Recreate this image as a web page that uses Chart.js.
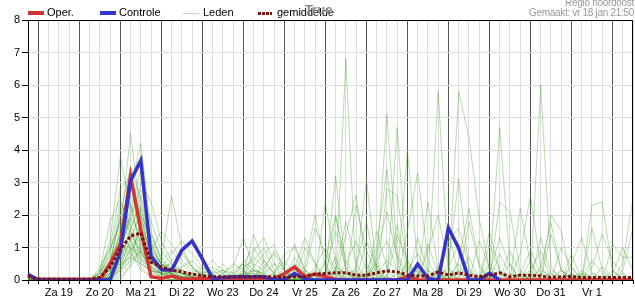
<!DOCTYPE html>
<html>
<head>
<meta charset="utf-8">
<script src="https://cdn.jsdelivr.net/npm/chart.js@4"></script>
<style>
  body { margin: 0; background: #fff; font-family: 'Liberation Sans', Arial, sans-serif; }
  #wrap { position: relative; width: 635px; height: 300px; overflow: hidden; }
  .lg { position: absolute; top: 6px; font-size: 11px; line-height: 13px; color: #000; white-space: nowrap; }
  .sw { position: absolute; display: block; }
  .kop { position: absolute; right: 1px; font-size: 10px; line-height: 12px; color: #999; letter-spacing: -0.3px; white-space: nowrap; }
  .titel { position: absolute; left: 305px; top: 3px; font-size: 13px; line-height: 14px; font-weight: bold; color: #8a8a8a; }
</style>
</head>
<body>
<div id="wrap">
  <canvas id="grafiek" width="635" height="300"></canvas>

  <span class="sw" style="left:28px;top:11px;width:16px;height:4px;background:#d43434"></span>
  <span class="lg" style="left:47px">Oper.</span>
  <span class="sw" style="left:100px;top:11px;width:16px;height:4px;background:#3434cc"></span>
  <span class="lg" style="left:119px">Controle</span>
  <span class="sw" style="left:183px;top:13px;width:16px;height:1px;background:#b5dcaa"></span>
  <span class="lg" style="left:203px">Leden</span>
  <span class="sw" style="left:258px;top:12px;width:14px;height:3px;background:repeating-linear-gradient(90deg,#7b1010 0 3px,transparent 3px 4px)"></span>
  <span class="lg" style="left:277px">gemiddelde</span>
  <span class="titel">True</span>

  <span class="kop" style="top:-3px">Regio noordoost</span>
  <span class="kop" style="top:7px">Gemaakt: vr 18 jan 21:50</span>
</div>

<script>
// 6-uurs stappen vanaf vr 18 jan 18:00
const dagen = ['Za 19', 'Zo 20', 'Ma 21', 'Di 22', 'Wo 23', 'Do 24', 'Vr 25',
               'Za 26', 'Zo 27', 'Ma 28', 'Di 29', 'Wo 30', 'Do 31', 'Vr 1'];

const oper = [.12,  .02,.02,.02,.02,  .02,.02,0,.5,  1.1,3.2,1.55,.1,  .05,.12,.03,.03,  .05,.03,.03,.03,
  .03,.03,.03,.03,  .2,.4,.1,.18,  .1,.02,0,0,  0,0,0,0,  .1,0,0,0,  0,0,0,0,  0,0,0,0,  0,0,0,0,  0,0,0,0,  0,0,0];

const controle = [.18,  0,0,0,0,  0,0,0,0,  .85,3.05,3.68,.73,  .32,.3,.92,1.2,  .65,.05,.08,.1,
  .1,.1,.1,.02,  0,.2,.03,0,  0,0,0,0,  0,0,0,0,  0,.49,.05,0,  1.6,.98,0,0,  .21,0];

const gemiddelde = [.12,  .03,.02,.02,.02,  .02,.02,.08,.4,  .95,1.35,1.45,.55,  .4,.3,.25,.18,  .13,.1,.1,.1,
  .1,.1,.1,.1,  .08,.1,.1,.18,  .2,.22,.22,.15,  .15,.22,.28,.25,  .15,.12,.12,.25,  .15,.22,.15,.1,
  .15,.22,.1,.15,  .15,.12,.08,.1,  .1,.08,.08,.08,  .08,.08,.08];

const leden = [
  [.1,  0,.05,0,.05,  0,0,.2,1.2,  3.8,2.2,1.1,.6,  .3,.2,.1,.1,  .2,.1,0,.3,  .5,.2,0,0,  .1,.3,.1,0,  .2,3.2,.3,0,  0,.2,.6,.3,  .1,0,0,.4,  .2,0,0,.1,  .5,.2,0,0,  .1,.3,.1,0,  0,.2,.1,0,  0,.1,0],
  [0,  0,0,0,0,  0,0,.1,.3,  1.5,4.5,2.0,.8,  .4,.3,.2,.1,  0,.1,0,0,  .2,1.4,.6,.2,  0,0,.2,0,  0,0,6.8,0,  0,0,.1,0,  .3,.8,.2,0,  0,0,.3,0,  .2,4.7,.5,0,  0,0,.2,0,  0,0,0,.1,  0,0,0],
  [.15,  .05,0,0,.05,  0,0,0,.1,  .8,2.8,4.2,1.5,  .6,2.6,1.0,.4,  .2,0,0,.1,  .1,0,0,0,  0,.5,.2,0,  0,0,0,.1,  0,.4,5.1,.8,  .2,0,0,0,  .1,0,0,0,  0,0,0,.2,  0,6.0,.4,0,  0,0,.1,0,  0,0,0],
  [0,  0,0,.05,0,  0,0,.1,.5,  2.0,3.5,2.5,1.0,  .5,.4,.3,.1,  0,0,.2,.4,  1.3,.4,.1,0,  0,0,0,.3,  .1,0,0,0,  .2,0,0,4.7,  .2,.3,0,5.8,  .4,0,.1,0,  0,0,.2,0,  0,0,0,.3,  .1,0,0,0,  0,0,0],
  [0,  0,0,0,0,  .05,0,0,.2,  1.0,1.8,3.0,2.4,  1.2,.6,.3,.2,  .1,0,0,0,  .2,.3,.1,0,  0,.2,.1,0,  2.4,.5,0,0,  0,.1,0,0,  0,0,.3,.1,  0,5.8,4.4,1.9,  .3,0,0,0,  .1,0,0,0,  0,.2,0,0,  0,0,0],
  [.05,  0,0,0,0,  0,0,.3,1.8,  2.5,1.5,.8,.4,  .2,.1,0,0,  .1,0,0,.2,  .4,.6,1.0,.3,  0,0,0,0,  0,0,.2,.3,  3.1,.3,0,0,  4.0,.5,0,0,  0,0,0,.2,  0,0,0,0,  .3,0,0,0,  .2,0,2.3,2.4,  .3,0,0],
  [0,  0,.05,0,0,  0,0,0,.1,  .6,1.2,2.2,1.0,  .5,.2,.1,0,  0,.1,.3,.1,  0,0,.2,.5,  .3,0,0,0,  0,.3,0,0,  0,0,2.8,2.6,  .4,0,0,0,  .2,0,0,.1,  0,2.4,2.1,.3,  0,0,0,0,  .1,0,0,0,  0,0,0],
  [0,  0,0,0,0,  0,0,0,.05,  .3,.8,1.6,.9,  1.5,1.1,.6,.3,  .2,.3,.1,0,  0,.1,.4,.8,  .3,.1,0,0,  .3,0,0,0,  .1,.5,0,0,  0,0,2.4,.3,  0,0,0,1.2,  .4,0,0,0,  0,.2,0,0,  0,0,0,.4,  .1,0,0],
  [.1,  0,0,0,0,  0,0,.2,.6,  1.4,2.6,1.9,.7,  .3,.1,0,0,  0,0,.1,0,  0,.2,.1,0,  0,0,.4,2.0,  .4,0,0,.2,  0,0,0,0,  .1,0,0,0,  0,.3,0,0,  0,0,0,2.2,  .5,0,0,0,  0,0,.2,.1,  0,.5,2.5],
  [0,  0,0,0,0,  0,0,0,0,  0,.5,1.0,.6,  .4,.8,1.2,.8,  .4,.1,0,0,  0,.9,1.3,.5,  0,0,0,0,  0,.2,0,0,  .5,.1,0,0,  0,0,0,0,  .3,0,0,0,  0,0,0,0,  0,0,.3,.1,  0,0,0,0,  1.1,.7,.7],
  [0,  0,0,0,0,  0,0,.4,1.0,  2.8,3.2,1.2,.5,  .2,.1,0,0,  0,0,0,0,  0,0,0,.2,  .8,1.0,.3,0,  0,0,0,.3,  0,0,0,0,  0,.2,0,0,  1.2,1.6,.4,0,  0,0,0,0,  0,0,0,0,  .2,0,0,0,  0,0,0],
  [0,  0,0,0,0,  0,0,0,.1,  .9,2.0,2.8,1.8,  .9,.5,.2,.1,  0,0,.1,0,  .1,0,0,0,  0,0,0,0,  .2,1.5,.4,0,  0,0,.3,0,  0,0,0,0,  0,0,0,0,  .1,0,0,0,  0,.4,1.75,.3,  0,0,0,0,  0,0,0],
  [.05,  0,0,0,0,  0,0,.1,.4,  1.2,1.9,1.4,.6,  .3,.2,.4,.6,  .3,.1,0,0,  .3,.7,.4,.1,  0,.3,1.3,.5,  0,0,0,0,  0,.6,1.2,.3,  0,0,0,0,  .4,1.1,.2,0,  0,0,.5,0,  0,0,0,0,  0,.3,0,0,  0,0,0],
  [0,  0,0,0,0,  0,0,0,.2,  .7,1.4,.9,.3,  .2,.1,.1,0,  .1,.2,.3,.2,  .5,1.0,.5,.2,  0,0,.2,1.6,  .8,.2,0,0,  0,0,0,1.4,  .6,0,0,0,  0,0,1.8,.4,  0,0,0,0,  .6,0,0,0,  0,0,0,0,  0,.2,0],
  [.1,  .05,0,0,0,  0,0,.2,.9,  1.8,1.2,.6,.2,  .1,0,0,.2,  .4,.2,0,0,  0,0,.3,.9,  .4,0,0,0,  0,1.95,.6,0,  0,0,0,.2,  0,0,1.1,.2,  0,0,0,0,  1.5,.3,0,0,  0,0,0,1.0,  .4,0,0,0,  0,0,0],
  [0,  0,0,0,0,  0,0,0,.1,  .4,.9,1.3,.7,  .4,.5,.3,.1,  0,0,0,.1,  .2,.1,0,0,  .1,.2,0,0,  0,.3,1.8,.5,  0,0,0,0,  0,.4,.1,0,  0,0,0,0,  0,0,0,.2,  .9,.2,0,0,  0,0,0,0,  .3,0,0],
  [0,  0,0,.05,0,  0,0,.1,.3,  .5,.7,.5,.3,  .2,.2,.8,.4,  .1,0,0,0,  0,.4,.8,1.1,  .3,0,0,0,  0,0,0,0,  1.2,.4,0,0,  0,0,0,.3,  1.4,.2,0,0,  0,0,0,0,  0,0,0,0,  .5,1.3,.2,0,  0,0,0],
  [.05,  0,0,0,0,  0,0,0,0,  .2,.6,1.8,1.4,  .7,.3,.1,0,  0,0,.2,.5,  .3,0,0,0,  0,0,0,.4,  1.0,.3,0,0,  .2,0,0,0,  0,1.3,.3,0,  0,0,0,0,  0,.8,.2,0,  0,0,0,0,  0,0,.6,.2,  0,0,0],
  [0,  0,0,0,0,  0,0,.2,.7,  1.1,.8,.5,.3,  .1,0,0,0,  .2,.4,.2,0,  0,0,0,.2,  .6,.2,0,0,  0,0,0,2.3,  .9,.2,0,0,  0,0,0,0,  0,0,.7,0,  0,0,0,0,  0,0,0,.3,  0,0,0,0,  0,0,0],
  [.1,  0,0,0,0,  0,0,0,.1,  .5,1.6,2.3,.9,  .3,.2,.1,0,  0,0,0,0,  .1,.3,.2,0,  0,0,0,0,  0,0,.5,1.2,  .3,0,0,0,  0,0,0,.2,  0,.5,0,0,  0,0,0,0,  0,0,0,0,  0,0,0,0,  .2,1.0,.3],
  [0,  0,0,0,0,  0,0,0,.3,  1.6,2.4,1.0,.4,  .2,.1,0,0,  0,0,0,.1,  .2,.2,0,0,  0,0,.3,.1,  0,0,0,0,  0,.8,2.1,.7,  0,0,0,0,  0,0,0,0,  0,0,0,0,  .3,.9,0,0,  0,0,0,0,  0,0,0],
  [0,  0,0,0,0,  0,0,0,0,  .1,.4,.9,.6,  .3,.2,.1,.1,  .3,.6,.3,0,  0,0,0,0,  .1,0,0,0,  .1,.4,.2,0,  0,0,0,0,  .3,0,0,0,  0,0,0,0,  .2,1.3,.4,0,  0,0,0,0,  0,0,0,0,  0,0,0],
  [.05,  0,0,0,0,  0,0,.1,.5,  1.3,1.0,.6,.4,  .2,.1,0,0,  0,0,0,0,  0,0,0,0,  0,.7,.2,0,  0,0,0,0,  0,0,0,0,  0,0,0,0,  0,0,0,0,  0,0,0,0,  0,0,0,0,  0,0,0,0,  0,0,0],
  [0,  0,0,0,0,  0,0,0,.2,  .9,2.1,3.4,1.1,  .5,.2,0,0,  0,0,0,0,  0,0,0,0,  0,0,0,0,  .5,0,0,0,  0,0,0,0,  0,0,0,0,  0,0,0,0,  0,0,0,0,  0,0,0,0,  .4,0,0,0,  0,0,0],
  [0,  0,0,0,0,  0,0,0,.1,  .6,1.1,.8,.5,  .6,.9,.5,.2,  0,0,0,0,  .2,.5,.3,0,  0,0,0,0,  0,0,0,0,  0,0,0,0,  .6,.2,0,0,  0,0,0,0,  0,0,0,0,  0,0,0,0,  0,0,0,0,  0,0,0],
  [.05,  0,.05,0,0,  0,0,.1,.4,  2.2,1.3,.4,.1,  0,0,0,0,  0,0,0,0,  0,0,0,0,  0,0,0,0,  0,0,0,0,  0,0,0,0,  0,0,0,0,  0,0,0,0,  0,0,0,0,  0,0,0,0,  0,0,0,0,  0,0,0],
  [0,  0,0,0,0,  0,0,0,.1,  .4,.7,1.1,.8,  .5,.3,.2,.1,  0,0,0,.1,  .3,.1,0,0,  0,0,0,0,  0,0,0,0,  0,0,.3,1.7,  .2,0,0,0,  0,0,0,0,  .4,0,0,0,  0,1.3,.2,0,  0,0,0,0,  0,0,0],
  [0,  0,0,0,0,  0,0,.1,.2,  .8,3.0,2.0,.6,  .2,0,0,0,  0,0,0,0,  0,0,0,0,  0,0,0,0,  0,.7,0,0,  0,0,0,0,  0,0,.9,2.0,  .4,0,0,0,  0,0,0,0,  0,0,0,0,  .8,0,0,0,  0,0,0],
  [0,  0,0,0,0,  0,0,0,0,  .3,1.0,1.5,.8,  .4,.3,.2,0,  0,0,0,0,  0,0,.6,.2,  0,0,0,0,  0,0,0,0,  0,0,0,0,  0,0,0,0,  0,0,0,0,  0,0,0,0,  0,0,0,0,  0,0,0,0,  0,0,0],
  [.1,  0,0,0,0,  0,0,.3,1.0,  1.7,.9,.3,.1,  0,0,0,0,  0,0,0,0,  0,0,0,0,  0,0,0,0,  0,0,0,0,  0,0,0,0,  0,0,0,0,  0,0,0,0,  0,0,0,0,  0,0,0,0,  0,0,0,0,  0,0,0],
  [0,  0,0,0,0,  0,0,.1,.6,  1.9,1.5,.7,.3,  .2,.4,.2,0,  0,.2,.5,.2,  0,0,0,0,  .4,1.1,.3,0,  0,0,0,0,  0,1.5,.4,0,  0,0,0,0,  0,.6,2.2,.5,  0,0,0,0,  0,0,1.4,.3,  0,0,0,0,  0,0,0],
  [0,  0,0,0,0,  0,0,0,.2,  1.0,2.3,1.7,.9,  .5,.3,.1,0,  0,0,0,0,  .6,.3,0,0,  0,0,0,0,  0,0,1.4,2.6,  .4,0,0,0,  0,0,0,0,  0,0,0,0,  1.1,.3,0,0,  0,0,0,0,  0,0,1.6,.3,  0,0,0],
  [.05,  0,0,0,0,  0,0,.1,.3,  .7,1.5,2.6,1.2,  .4,.2,0,0,  0,0,0,0,  0,0,0,0,  0,0,0,0,  .6,2.0,.3,0,  0,0,0,0,  .5,0,0,0,  0,0,0,0,  0,0,0,.8,  2.6,.4,0,0,  0,0,0,0,  0,0,0],
  [0,  0,0,0,0,  0,0,0,.1,  .5,1.0,.7,.4,  .2,.6,.9,.4,  .1,0,0,0,  0,0,0,0,  0,0,1.0,.5,  0,0,0,0,  0,0,0,0,  0,0,0,0,  .5,3.1,.3,0,  0,0,0,0,  0,0,0,0,  0,0,.4,1.4,  .6,.2,0],
  [0,  0,0,0,0,  0,0,.2,.8,  2.4,1.7,.9,.3,  .1,0,0,0,  0,0,0,0,  0,.3,.2,0,  0,0,0,0,  0,0,0,.4,  1.8,.2,0,0,  0,.3,0,0,  0,0,0,0,  0,0,.9,.2,  0,0,0,0,  0,0,0,0,  0,.3,1.6],
  [0,  0,0,0,0,  0,0,0,0,  .4,1.3,2.0,1.3,  .6,.3,.2,.1,  0,0,0,0,  0,0,0,0,  0,0,0,0,  0,0,0,0,  .3,1.0,3.4,.5,  0,0,0,0,  0,0,0,0,  0,0,0,0,  0,0,0,0,  0,0,0,0,  0,0,0],
  [0,  0,0,0,0,  0,0,0,.1,  .3,.6,.9,.5,  .3,.2,0,0,  0,0,0,0,  0,0,0,0,  0,0,0,0,  0,0,0,0,  0,0,0,0,  1.5,3.3,.6,0,  0,0,0,0,  0,0,0,0,  .2,0,0,0,  0,0,0,0,  0,0,0],
  [.05,  0,0,0,0,  0,0,.1,.3,  1.2,2.9,1.6,.6,  .3,.1,0,0,  0,0,0,0,  0,0,0,0,  0,0,0,0,  0,0,0,0,  0,0,0,0,  0,0,0,0,  0,0,0,0,  0,0,0,0,  0,0,2.0,1.5,  0,0,0,0,  0,0,0]
];

// dag-label op het midden van de dag, de rest leeg
const labels = oper.map((_, i) => (i % 4 === 3 && dagen[(i - 3) / 4]) || '');

Chart.defaults.font.family = "'Liberation Sans', Arial, sans-serif";
Chart.defaults.font.size = 11;
Chart.defaults.color = '#000';

const datasets = [
  { label: 'gemiddelde', data: gemiddelde, borderColor: '#7b1010', borderWidth: 3, borderDash: [3, 2] },
  { label: 'Controle', data: controle, borderColor: '#3434cc', borderWidth: 3.5 },
  { label: 'Oper.', data: oper, borderColor: '#d43434', borderWidth: 3.5 },
  ...leden.map(d => ({ label: 'Leden', data: d, borderColor: 'rgba(60,155,35,0.36)', borderWidth: 1 }))
];

// zwarte rand boven en rechts van het plotvlak
const kader = {
  id: 'kader',
  afterDraw(chart) {
    const { ctx, chartArea: a } = chart;
    ctx.save();
    ctx.strokeStyle = '#000';
    ctx.lineWidth = 1;
    ctx.beginPath();
    ctx.moveTo(a.left, a.top + 0.5);
    ctx.lineTo(a.right - 0.5, a.top + 0.5);
    ctx.lineTo(a.right - 0.5, a.bottom);
    ctx.stroke();
    ctx.restore();
  }
};

new Chart(document.getElementById('grafiek'), {
  type: 'line',
  data: { labels, datasets },
  options: {
    responsive: false,
    animation: false,
    layout: { padding: { top: 20, right: 1, left: 0, bottom: 0 } },
    elements: { point: { radius: 0 }, line: { tension: 0, fill: false } },
    plugins: { legend: { display: false }, tooltip: { enabled: false } },
    scales: {
      x: {
        offset: false,
        grid: { color: c => (c.index % 4 === 1 ? '#555' : '#dcdcdc'), tickColor: '#000', tickLength: 4 },
        border: { color: '#000' },
        ticks: { autoSkip: false, maxRotation: 0, minRotation: 0, padding: 2 },
        afterFit: s => { s.height = 20; }
      },
      y: {
        min: 0,
        max: 8,
        ticks: { stepSize: 1, padding: 2 },
        grid: { color: '#dcdcdc', tickColor: '#000', tickLength: 6 },
        border: { color: '#000' },
        afterFit: s => { s.width = 28; }
      }
    }
  },
  plugins: [kader]
});
</script>
</body>
</html>
